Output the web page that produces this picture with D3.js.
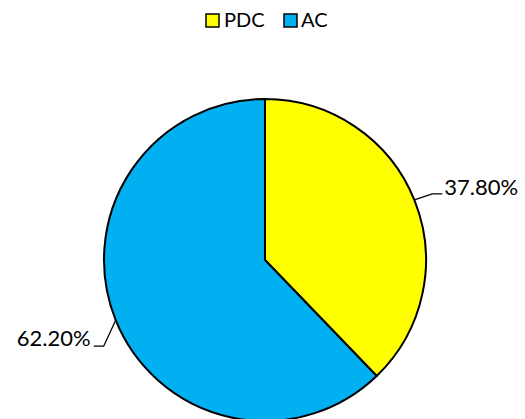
<!DOCTYPE html>
<html><head><meta charset="utf-8">
<script src="https://cdn.jsdelivr.net/npm/d3@7"></script>
<style>body{margin:0;background:#fff}svg{display:block}</style>
</head><body>
<script>
const categories = ["PDC", "AC"];
const values = [37.8, 62.2];
const labels = ["37.80%", "62.20%"];
const colors = ["#FFFF00", "#00B0F0"];

const W = 525, H = 419;
const svg = d3.select("body").append("svg").attr("width", W).attr("height", H);
const font = "Lato, 'Open Sans', sans-serif";

const cx = 265, cy = 260, r = 161;
const pie = d3.pie().sort(null).value(d => d)(values);
const arc = d3.arc().innerRadius(0).outerRadius(r);
const g = svg.append("g").attr("transform", `translate(${cx},${cy})`);
g.selectAll("path").data(pie).join("path")
  .attr("d", arc).attr("fill", (d, i) => colors[i])
  .attr("stroke", "#000").attr("stroke-width", 2).attr("stroke-linejoin", "round");

// leader lines and labels
const edge = d3.arc().innerRadius(r).outerRadius(r);
pie.forEach((d, i) => {
  const [ex, ey] = edge.centroid(d);
  const right = ex > 0;
  let pts, tx, ty, anchor;
  if (right) {
    pts = [[ex, ey], [ex + 18, ey - 6], [ex + 28, ey - 6]];
    tx = ex + 30; ty = ey - 5; anchor = "start";
  } else {
    pts = [[ex, ey], [ex - 12, ey + 26], [ex - 22, ey + 26]];
    tx = ex - 25; ty = ey + 26; anchor = "end";
  }
  g.append("path").attr("d", d3.line()(pts)).attr("fill", "none")
    .attr("stroke", "#000").attr("stroke-width", 1.3);
  g.append("text").attr("x", tx).attr("y", ty).attr("text-anchor", anchor)
    .attr("font-family", font).attr("font-size", 22).attr("fill", "#000")
    .text(labels[i]);
});

// legend
const legend = svg.append("g");
const items = [{x: 206, tx: 224}, {x: 284, tx: 301}];
categories.forEach((c, i) => {
  legend.append("rect").attr("x", items[i].x).attr("y", 14).attr("width", 13).attr("height", 13)
    .attr("fill", colors[i]).attr("stroke", "#000").attr("stroke-width", 1.5);
  legend.append("text").attr("x", items[i].tx).attr("y", 27)
    .attr("font-family", font).attr("font-size", 20).attr("fill", "#000").text(c);
});
</script>
</body></html>
